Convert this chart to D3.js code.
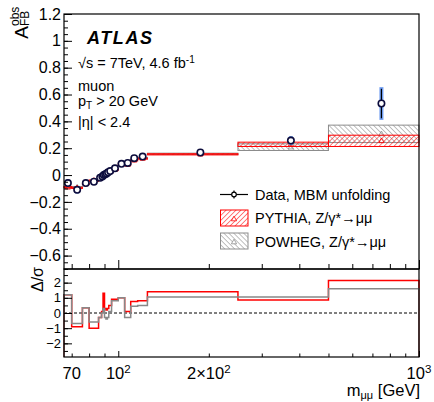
<!DOCTYPE html>
<html>
<head>
<meta charset="utf-8">
<script src="https://cdn.jsdelivr.net/npm/d3@7"></script>
<style>
  body { margin: 0; background: #fff; }
  text { font-family: "Liberation Sans", Arial, Helvetica, sans-serif; fill: #000; }
</style>
</head>
<body>
<div id="chart"></div>
<script>

// mass bins [GeV]
var binEdges = [66, 70, 76, 80, 86, 88, 89, 90, 91, 92, 93, 95, 100, 105, 110, 116, 125, 250, 500, 1000];

// unfolded data
var dataAfb  = [-0.06, -0.11, -0.06, -0.05, -0.02, -0.01, 0.0, 0.006, 0.012, 0.02, 0.03, 0.05, 0.084, 0.09, 0.126, 0.138, 0.168, 0.257, 0.533];
var dataStat = [0.02, 0.02, 0.015, 0.012, 0.01, 0.008, 0.006, 0.005, 0.005, 0.006, 0.008, 0.01, 0.012, 0.014, 0.014, 0.014, 0.012, 0.028, 0.11];
var dataTot  = [0.027, 0.027, 0.02, 0.016, 0.013, 0.01, 0.008, 0.007, 0.007, 0.008, 0.01, 0.013, 0.016, 0.018, 0.018, 0.018, 0.015, 0.033, 0.122];

// predictions
var pythiaAfb = [-0.09, -0.095, -0.066, -0.04, -0.022, -0.012, -0.006, 0.004, 0.013, 0.018, 0.026, 0.042, 0.08, 0.078, 0.11, 0.123, 0.155, 0.229, 0.255];
var pythiaErr = [0.004, 0.004, 0.004, 0.003, 0.003, 0.003, 0.003, 0.003, 0.003, 0.003, 0.003, 0.003, 0.004, 0.004, 0.004, 0.004, 0.004, 0.016, 0.042];
var powhegAfb = [-0.09, -0.09, -0.066, -0.044, -0.022, -0.01, -0.002, 0.005, 0.014, 0.022, 0.027, 0.042, 0.085, 0.082, 0.115, 0.128, 0.158, 0.208, 0.307];
var powhegErr = [0.005, 0.005, 0.004, 0.004, 0.003, 0.003, 0.003, 0.003, 0.003, 0.003, 0.003, 0.004, 0.004, 0.004, 0.004, 0.004, 0.005, 0.025, 0.065];

// pulls (data - MC)/sigma
var pullPythia = [1.2, -0.9, 0.35, -1.0, -0.3, 0.1, 1.3, 0.3, 0.2, 0.3, 0.5, 0.9, 1.0, 0.1, 0.75, 0.8, 1.4, 0.85, 2.15];
var pullPowheg = [1.2, -0.7, 0.35, -0.6, -0.3, 0.0, 0.3, -0.3, -0.4, -0.3, 0.1, 0.8, 1.0, -0.3, 0.45, 0.5, 1.05, 1.05, 1.6];

var yTicksTop = [-0.6, -0.4, -0.2, 0, 0.2, 0.4, 0.6, 0.8, 1, 1.2];
var yTicksBottom = [-2, -1, 0, 1, 2];
var xMinorTicks = [70, 80, 90, 200, 300, 400, 500, 600, 700, 800, 900];
var xMajorTicks = [100, 1000];
var xTickLabels = [
  { v: 70, base: "70", sup: "" },
  { v: 100, base: "10", sup: "2" },
  { v: 200, base: "2\u00d710", sup: "2" },
  { v: 1000, base: "10", sup: "3" }
];

var svgWidth = 434;
var svgHeight = 402;

var frame = { left: 64, right: 419, top: 14, mid: 269, bottom: 357 };

var svg = d3.select("#chart")
  .append("svg")
  .attr("width", svgWidth)
  .attr("height", svgHeight);

var defs = svg.append("defs");

function hatch(id, color, angle) {
  var p = defs.append("pattern")
    .attr("id", id)
    .attr("patternUnits", "userSpaceOnUse")
    .attr("width", 3.5)
    .attr("height", 3.5)
    .attr("patternTransform", `rotate(${angle})`);
  p.append("line")
    .attr("x1", 0).attr("y1", 0)
    .attr("x2", 0).attr("y2", 3.5)
    .attr("stroke", color)
    .attr("stroke-width", 1);
}
hatch("hatchRed", "#ff0000", 45);
hatch("hatchGrey", "#808080", -45);

var x = d3.scaleLog()
  .domain([66, 1000])
  .range([frame.left, frame.right]);

var yTop = d3.scaleLinear()
  .domain([-0.7, 1.2])
  .range([frame.mid, frame.top]);

var yBot = d3.scaleLinear()
  .domain([-2.9, 2.9])
  .range([frame.bottom, frame.mid]);

var bins = dataAfb.map(function(d, i) {
  return {
    lo: binEdges[i],
    hi: binEdges[i + 1],
    mid: (binEdges[i] + binEdges[i + 1]) / 2,
    data: d, stat: dataStat[i], tot: dataTot[i],
    py: pythiaAfb[i], pyErr: pythiaErr[i],
    pw: powhegAfb[i], pwErr: powhegErr[i],
    pullPy: pullPythia[i], pullPw: pullPowheg[i]
  };
});

// ---------- upper panel ----------
var upperG = svg.append("g");

function mcBoxes(key, errKey, fill, stroke) {
  upperG.append("g").selectAll("rect")
    .data(bins)
    .enter()
    .append("rect")
    .attr("x", d => x(d.lo))
    .attr("width", d => x(d.hi) - x(d.lo))
    .attr("y", d => yTop(d[key] + d[errKey]))
    .attr("height", d => Math.max(1.2, yTop(d[key] - d[errKey]) - yTop(d[key] + d[errKey])))
    .attr("fill", fill)
    .attr("stroke", stroke)
    .attr("stroke-width", 1);

  upperG.append("g").selectAll("path")
    .data(bins)
    .enter()
    .append("path")
    .attr("transform", d => `translate(${x(d.mid)},${yTop(d[key])})`)
    .attr("d", "M0,-2.8L2.6,1.8L-2.6,1.8Z")
    .attr("fill", "none")
    .attr("stroke", stroke)
    .attr("stroke-width", 0.8);
}
mcBoxes("pw", "pwErr", "url(#hatchGrey)", "#8c8c8c");
mcBoxes("py", "pyErr", "url(#hatchRed)", "#ff0000");

var pts = upperG.append("g").selectAll("g")
  .data(bins)
  .enter()
  .append("g");

pts.append("rect")
  .attr("x", d => x(d.mid) - 2)
  .attr("width", 4)
  .attr("y", d => yTop(d.data + d.tot))
  .attr("height", d => yTop(d.data - d.tot) - yTop(d.data + d.tot))
  .attr("fill", "#6f9df2");

pts.append("line")
  .attr("x1", d => x(d.mid))
  .attr("x2", d => x(d.mid))
  .attr("y1", d => yTop(d.data + d.stat))
  .attr("y2", d => yTop(d.data - d.stat))
  .attr("stroke", "#000")
  .attr("stroke-width", 1.2);

pts.append("circle")
  .attr("cx", d => x(d.mid))
  .attr("cy", d => yTop(d.data))
  .attr("r", 3.2)
  .attr("fill", "#fff")
  .attr("stroke", "#0c0c3c")
  .attr("stroke-width", 1.6);

// ---------- lower panel ----------
var lowerG = svg.append("g");

lowerG.append("line")
  .attr("x1", frame.left).attr("x2", frame.right)
  .attr("y1", yBot(0)).attr("y2", yBot(0))
  .attr("stroke", "#000")
  .attr("stroke-width", 1)
  .attr("stroke-dasharray", "3,2");

function stepPoints(key) {
  var p = [[binEdges[0], -2.9]];
  bins.forEach(function(d) {
    p.push([d.lo, d[key]]);
    p.push([d.hi, d[key]]);
  });
  p.push([binEdges[binEdges.length - 1], -2.9]);
  return p;
}

var stepLine = d3.line()
  .x(d => x(d[0]))
  .y(d => yBot(d[1]));

lowerG.append("path")
  .attr("d", stepLine(stepPoints("pullPy")))
  .attr("fill", "none")
  .attr("stroke", "#ff0000")
  .attr("stroke-width", 1.5);

lowerG.append("path")
  .attr("d", stepLine(stepPoints("pullPw")))
  .attr("fill", "none")
  .attr("stroke", "#888888")
  .attr("stroke-width", 1.5);

// ---------- frames & axes ----------
svg.append("rect")
  .attr("x", frame.left).attr("y", frame.top)
  .attr("width", frame.right - frame.left)
  .attr("height", frame.mid - frame.top)
  .attr("fill", "none").attr("stroke", "#000").attr("stroke-width", 1.2);

svg.append("rect")
  .attr("x", frame.left).attr("y", frame.mid)
  .attr("width", frame.right - frame.left)
  .attr("height", frame.bottom - frame.mid)
  .attr("fill", "none").attr("stroke", "#000").attr("stroke-width", 1.2);

function cleanAxis(g) {
  g.select(".domain").remove();
  g.selectAll(".tick line").attr("stroke", "#000").attr("stroke-width", 1);
  g.selectAll(".tick text")
    .attr("font-family", "Liberation Sans, Arial, sans-serif")
    .attr("fill", "#000");
}

// upper y
svg.append("g")
  .attr("transform", `translate(${frame.left},0)`)
  .call(d3.axisLeft(yTop).tickValues(d3.range(-0.7, 1.2001, 0.05)).tickSize(-4).tickFormat(""))
  .call(cleanAxis);

svg.append("g")
  .attr("transform", `translate(${frame.left},0)`)
  .call(d3.axisLeft(yTop).tickValues(yTicksTop).tickSize(-8).tickPadding(3)
    .tickFormat(d3.format(".1~f")))
  .call(cleanAxis)
  .selectAll(".tick text").attr("font-size", 16);

// lower y
svg.append("g")
  .attr("transform", `translate(${frame.left},0)`)
  .call(d3.axisLeft(yBot).tickValues(d3.range(-2.5, 2.51, 0.5)).tickSize(-4).tickFormat(""))
  .call(cleanAxis);

svg.append("g")
  .attr("transform", `translate(${frame.left},0)`)
  .call(d3.axisLeft(yBot).tickValues(yTicksBottom).tickSize(-8).tickPadding(3).tickFormat(d3.format("")))
  .call(cleanAxis)
  .selectAll(".tick text").attr("font-size", 13);

// x ticks, both panels
[[frame.mid, 5, 9], [frame.bottom, 3.5, 6]].forEach(function(c) {
  svg.append("g")
    .attr("transform", `translate(0,${c[0]})`)
    .call(d3.axisBottom(x).tickValues(xMinorTicks).tickSize(-c[1]).tickFormat(""))
    .call(cleanAxis);
  svg.append("g")
    .attr("transform", `translate(0,${c[0]})`)
    .call(d3.axisBottom(x).tickValues(xMajorTicks).tickSize(-c[2]).tickFormat(""))
    .call(cleanAxis);
});

var xl = svg.append("g").selectAll("text")
  .data(xTickLabels)
  .enter()
  .append("text")
  .attr("x", d => x(d.v))
  .attr("y", 379)
  .attr("text-anchor", "middle")
  .attr("font-size", 16.5);
xl.append("tspan").text(d => d.base);
xl.append("tspan")
  .attr("dy", -6.5)
  .attr("font-size", 11.5)
  .text(d => d.sup);

// axis titles
var xt = svg.append("text")
  .attr("x", 420)
  .attr("y", 396)
  .attr("text-anchor", "end")
  .attr("font-size", 16.5);
xt.append("tspan").text("m");
xt.append("tspan").attr("font-size", 11).attr("dy", 3).text("\u03bc\u03bc");
xt.append("tspan").attr("dy", -3).text(" [GeV]");

var yt = svg.append("g").attr("transform", "translate(28,14) rotate(-90)");
yt.append("text").attr("x", -12).attr("y", 0).attr("text-anchor", "end").attr("font-size", 19).text("A");
yt.append("text").attr("x", -12).attr("y", 0.5).attr("font-size", 12).text("FB");
yt.append("text").attr("x", -12).attr("y", -9).attr("font-size", 12).text("obs");

svg.append("text")
  .attr("transform", "translate(43,267) rotate(-90)")
  .attr("text-anchor", "end")
  .attr("font-size", 16)
  .text("\u0394/\u03c3");

// ---------- annotations ----------
svg.append("text")
  .attr("x", 87).attr("y", 44)
  .attr("font-size", 18)
  .attr("font-weight", "bold")
  .attr("font-style", "italic")
  .attr("letter-spacing", 1.6)
  .text("ATLAS");

var rs = svg.append("text").attr("x", 78).attr("y", 68).attr("font-size", 14.5);
rs.append("tspan").text("\u221as = 7TeV, 4.6 fb");
rs.append("tspan").attr("dy", -5).attr("font-size", 10).text("-1");

svg.append("text").attr("x", 78).attr("y", 91).attr("font-size", 14.5).text("muon");
var pt = svg.append("text").attr("x", 78).attr("y", 106).attr("font-size", 14.5);
pt.append("tspan").text("p");
pt.append("tspan").attr("dy", 3).attr("font-size", 10).text("T");
pt.append("tspan").attr("dy", -3).text(" > 20 GeV");
svg.append("text").attr("x", 78).attr("y", 127).attr("font-size", 14.5).text("|\u03b7| < 2.4");

// ---------- legend ----------
var leg = svg.append("g");
leg.append("line").attr("x1", 220).attr("x2", 248).attr("y1", 194.5).attr("y2", 194.5).attr("stroke", "#000").attr("stroke-width", 1.2);
leg.append("line").attr("x1", 234).attr("x2", 234).attr("y1", 190.5).attr("y2", 198.5).attr("stroke", "#000").attr("stroke-width", 1.2);
leg.append("circle").attr("cx", 234).attr("cy", 194.5).attr("r", 2.3).attr("fill", "#fff").attr("stroke", "#000").attr("stroke-width", 1.2);
leg.append("text").attr("x", 255).attr("y", 200).attr("font-size", 14.5).text("Data, MBM unfolding");

[["url(#hatchRed)", "#ff0000", 210, 223, "PYTHIA, Z/\u03b3*\u2192\u03bc\u03bc"],
 ["url(#hatchGrey)", "#8c8c8c", 233, 246.5, "POWHEG, Z/\u03b3*\u2192\u03bc\u03bc"]].forEach(function(e) {
  leg.append("rect").attr("x", 220.5).attr("y", e[2]).attr("width", 27.5).attr("height", 16)
    .attr("fill", e[0]).attr("stroke", e[1]).attr("stroke-width", 1);
  leg.append("path").attr("transform", `translate(234,${e[2] + 9})`)
    .attr("d", "M0,-2.8L2.6,1.8L-2.6,1.8Z").attr("fill", "#fff").attr("stroke", e[1]).attr("stroke-width", 0.8);
  leg.append("text").attr("x", 255).attr("y", e[3]).attr("font-size", 14.5).text(e[4]);
});
</script>
</body>
</html>
